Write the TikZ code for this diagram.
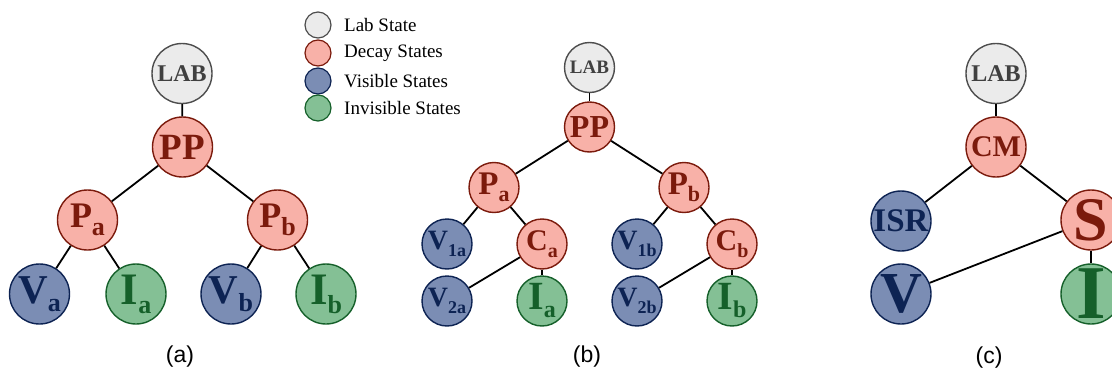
\documentclass[tikz,border=0pt]{standalone}
\usepackage{fontspec}
\setmainfont{Liberation Serif}
\newfontfamily\capfont{Liberation Sans}
\definecolor{labfill}{HTML}{EBEBEB}
\definecolor{labline}{HTML}{4D4D4D}
\definecolor{labtext}{HTML}{404040}
\definecolor{decfill}{HTML}{F8B1A8}
\definecolor{decline}{HTML}{7B1A0C}
\definecolor{visfill}{HTML}{7B8DB4}
\definecolor{visline}{HTML}{0D2353}
\definecolor{invfill}{HTML}{84C095}
\definecolor{invline}{HTML}{15602A}
\newcommand{\nsub}[5]{\makebox[0pt]{\fontsize{#3}{#3}\selectfont\bfseries #1\raisebox{-#5pt}{\fontsize{#4}{#4}\selectfont #2}}}
\newcommand{\ntxt}[2]{\makebox[0pt]{\fontsize{#2}{#2}\selectfont\bfseries #1}}
\tikzset{
  st/.style={circle, inner sep=0pt, line width=1.4pt},
  big/.style={minimum size=60pt},
  small/.style={minimum size=50pt},
  labst/.style={st, draw=labline, fill=labfill, text=labtext},
  decst/.style={st, draw=decline, fill=decfill, text=decline},
  visst/.style={st, draw=visline, fill=visfill, text=visline},
  invst/.style={st, draw=invline, fill=invfill, text=invline},
  edge/.style={line width=1.8pt, black},
  legc/.style={circle, inner sep=0pt, minimum size=26pt, line width=1.2pt},
  legt/.style={anchor=west, inner sep=0pt, font=\fontsize{19}{19}\selectfont},
  subcap/.style={font=\capfont\fontsize{23}{23}\selectfont}
}
\begin{document}
\begin{tikzpicture}[x=1pt,y=-1pt]
\useasboundingbox (0,0) rectangle (1112,372);
% legend
\node[legc, draw=labline, fill=labfill] (l1) at (318,25) {};
\node[legc, draw=decline, fill=decfill] (l2) at (318,53) {};
\node[legc, draw=visline, fill=visfill] (l3) at (318,81) {};
\node[legc, draw=invline, fill=invfill] (l4) at (318,108) {};
\node[legt] (t1) at (344,25) {Lab State};
\node[legt] (t2) at (344,53) {Decay States};
\node[legt] (t3) at (344,81) {Visible States};
\node[legt] (t4) at (344,108) {Invisible States};
% panel (a)
\node[labst,big] (aLAB) at (182,73.5) {\ntxt{LAB}{24}};
\node[decst,big] (aPP) at (182.5,147) {\ntxt{PP}{37}};
\node[decst,big] (aPa) at (87.5,220) {\nsub{P}{a}{36}{26}{8}};
\node[decst,big] (aPb) at (277.5,220) {\nsub{P}{b}{36}{26}{8}};
\node[visst,big] (aVa) at (39.5,294) {\nsub{V}{a}{41}{26}{8}};
\node[invst,big] (aIa) at (136,294) {\nsub{I}{a}{45}{26}{9}};
\node[visst,big] (aVb) at (231,294) {\nsub{V}{b}{41}{26}{8}};
\node[invst,big] (aIb) at (326,294) {\nsub{I}{b}{45}{26}{9}};
\draw[edge] (aLAB) -- (aPP);
\draw[edge] (aPP) -- (aPa);
\draw[edge] (aPP) -- (aPb);
\draw[edge] (aPa) -- (aVa);
\draw[edge] (aPa) -- (aIa);
\draw[edge] (aPb) -- (aVb);
\draw[edge] (aPb) -- (aIb);
\node[subcap] (capa) at (180,357) {(a)};
% panel (b)
\node[labst,small] (bLAB) at (589.5,67.5) {\ntxt{LAB}{19}};
\node[decst,small] (bPP) at (589.5,127) {\ntxt{PP}{32}};
\node[decst,small] (bPa) at (494,187.5) {\nsub{P}{a}{33}{22}{7}};
\node[decst,small] (bPb) at (684,187.5) {\nsub{P}{b}{33}{22}{7}};
\node[visst,small] (bV1a) at (447,244) {\nsub{V}{1a}{28}{18}{7}};
\node[decst,small] (bCa) at (542,244) {\nsub{C}{a}{30}{20}{7}};
\node[visst,small] (bV1b) at (637,244) {\nsub{V}{1b}{28}{18}{7}};
\node[decst,small] (bCb) at (732,244) {\nsub{C}{b}{30}{20}{7}};
\node[visst,small] (bV2a) at (447,301) {\nsub{V}{2a}{28}{18}{7}};
\node[invst,small] (bIa) at (542,301) {\nsub{I}{a}{40}{24}{8}};
\node[visst,small] (bV2b) at (637,301) {\nsub{V}{2b}{28}{18}{7}};
\node[invst,small] (bIb) at (732,301) {\nsub{I}{b}{40}{24}{8}};
\draw[edge] (bLAB) -- (bPP);
\draw[edge] (bPP) -- (bPa);
\draw[edge] (bPP) -- (bPb);
\draw[edge] (bPa) -- (bV1a);
\draw[edge] (bPa) -- (bCa);
\draw[edge] (bPb) -- (bV1b);
\draw[edge] (bPb) -- (bCb);
\draw[edge] (bCa) -- (bV2a);
\draw[edge] (bCa) -- (bIa);
\draw[edge] (bCb) -- (bV2b);
\draw[edge] (bCb) -- (bIb);
\node[subcap] (capb) at (587,357) {(b)};
% panel (c)
\node[labst,big] (cLAB) at (996,73.5) {\ntxt{LAB}{24}};
\node[decst,big] (cCM) at (996,147) {\ntxt{CM}{30}};
\node[visst,big] (cISR) at (901,221) {\ntxt{ISR}{33}};
\node[decst,big] (cS) at (1091,220) {\ntxt{S}{62}};
\node[visst,big] (cV) at (901,294) {\ntxt{V}{58}};
\node[invst,big] (cI) at (1091,294) {\ntxt{I}{76}};
\draw[edge] (cLAB) -- (cCM);
\draw[edge] (cCM) -- (cISR);
\draw[edge] (cCM) -- (cS);
\draw[edge] (cS) -- (cV);
\draw[edge] (cS) -- (cI);
\node[subcap] (capc) at (989,358) {(c)};
\end{tikzpicture}
\end{document}
